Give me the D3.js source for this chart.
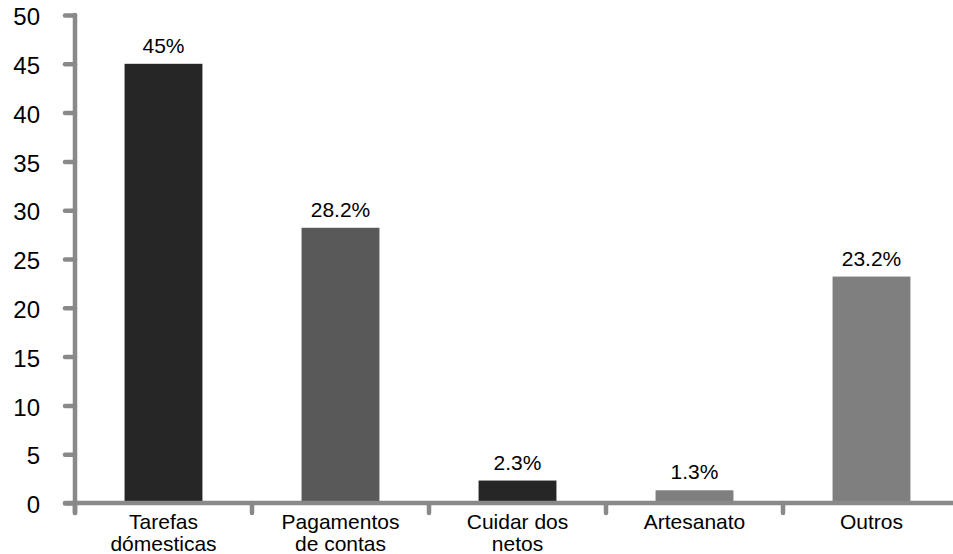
<!DOCTYPE html>
<html>
<head>
<meta charset="utf-8">
<script src="https://cdn.jsdelivr.net/npm/d3@7"></script>
<style>
  html, body { margin: 0; padding: 0; background: #fff; }
  svg { display: block; font-family: "Liberation Sans", Arial, sans-serif; }
</style>
</head>
<body>
<svg id="chart" width="953" height="554"></svg>
<script>
const categories = ["Tarefas dómesticas", "Pagamentos de contas", "Cuidar dos netos", "Artesanato", "Outros"];
const values = [45, 28.2, 2.3, 1.3, 23.2];
const valueLabels = ["45%", "28.2%", "2.3%", "1.3%", "23.2%"];
const yTicks = [0, 5, 10, 15, 20, 25, 30, 35, 40, 45, 50];

const barColors = ["#262626", "#595959", "#262626", "#7f7f7f", "#7f7f7f"];
const axisColor = "#898989";

(function () {
const svg = d3.select("#chart");
const mLeft = 75, mRight = 960, mTop = 15, mBottom = 503;

const y = d3.scaleLinear().domain([0, 50]).range([mBottom, mTop]);
const x = d3.scaleBand().domain(categories).range([mLeft, mRight])
  .paddingInner(0.56).paddingOuter(0.28);

// Y axis
const yAxis = svg.append("g").attr("transform", `translate(${mLeft},0)`)
  .call(d3.axisLeft(y).tickValues(yTicks).tickSize(10).tickPadding(25).tickSizeOuter(0));
yAxis.select(".domain").remove();
yAxis.selectAll(".tick line").attr("stroke", axisColor).attr("stroke-width", 4.5).attr("stroke-linecap", "round");
yAxis.selectAll(".tick text").attr("font-size", 24).attr("fill", "#000")
  .attr("font-family", "'Liberation Sans', Arial, sans-serif").attr("dy", "0.4em");

// Bars
svg.append("g").selectAll("rect").data(values).join("rect")
  .attr("x", (d, i) => x(categories[i]))
  .attr("y", d => y(d))
  .attr("width", x.bandwidth())
  .attr("height", d => y(0) - y(d))
  .attr("fill", (d, i) => barColors[i]);

// Value labels
svg.append("g").selectAll("text").data(values).join("text")
  .attr("x", (d, i) => x(categories[i]) + x.bandwidth() / 2)
  .attr("y", d => y(d) - 11)
  .attr("text-anchor", "middle")
  .attr("font-size", 21)
  .attr("fill", "#000")
  .text((d, i) => valueLabels[i]);

// Axis lines
const step = x.step();
const bounds = d3.range(categories.length + 1).map(i => mLeft + i * step);
svg.append("line").attr("x1", mLeft).attr("x2", mLeft).attr("y1", y(50)).attr("y2", mBottom + 10)
  .attr("stroke", axisColor).attr("stroke-width", 4.5).attr("stroke-linecap", "round");
svg.append("line").attr("x1", mLeft - 10).attr("x2", 960).attr("y1", y(0)).attr("y2", y(0))
  .attr("stroke", axisColor).attr("stroke-width", 4.5).attr("stroke-linecap", "round");
svg.append("g").selectAll("line").data(bounds).join("line")
  .attr("x1", d => d).attr("x2", d => d).attr("y1", y(0)).attr("y2", y(0) + 10)
  .attr("stroke", axisColor).attr("stroke-width", 4.5).attr("stroke-linecap", "round");

// Category labels (wrapped)
function wrapWords(text, maxW, size) {
  const ctx = document.createElement("canvas").getContext("2d");
  ctx.font = `${size}px 'Liberation Sans', Arial, sans-serif`;
  const words = text.split(" ");
  const lines = [];
  let cur = "";
  words.forEach(w => {
    const t = cur ? cur + " " + w : w;
    if (ctx.measureText(t).width > maxW && cur) { lines.push(cur); cur = w; }
    else cur = t;
  });
  if (cur) lines.push(cur);
  return lines;
}
const catG = svg.append("g");
categories.forEach(c => {
  const lines = wrapWords(c, 128, 21);
  const cx = x(c) + x.bandwidth() / 2;
  lines.forEach((l, i) => {
    catG.append("text")
      .attr("x", cx)
      .attr("y", 529 + i * 22)
      .attr("text-anchor", "middle")
      .attr("font-size", 21)
      .attr("fill", "#000")
      .text(l);
  });
});
})();
</script>
</body>
</html>
